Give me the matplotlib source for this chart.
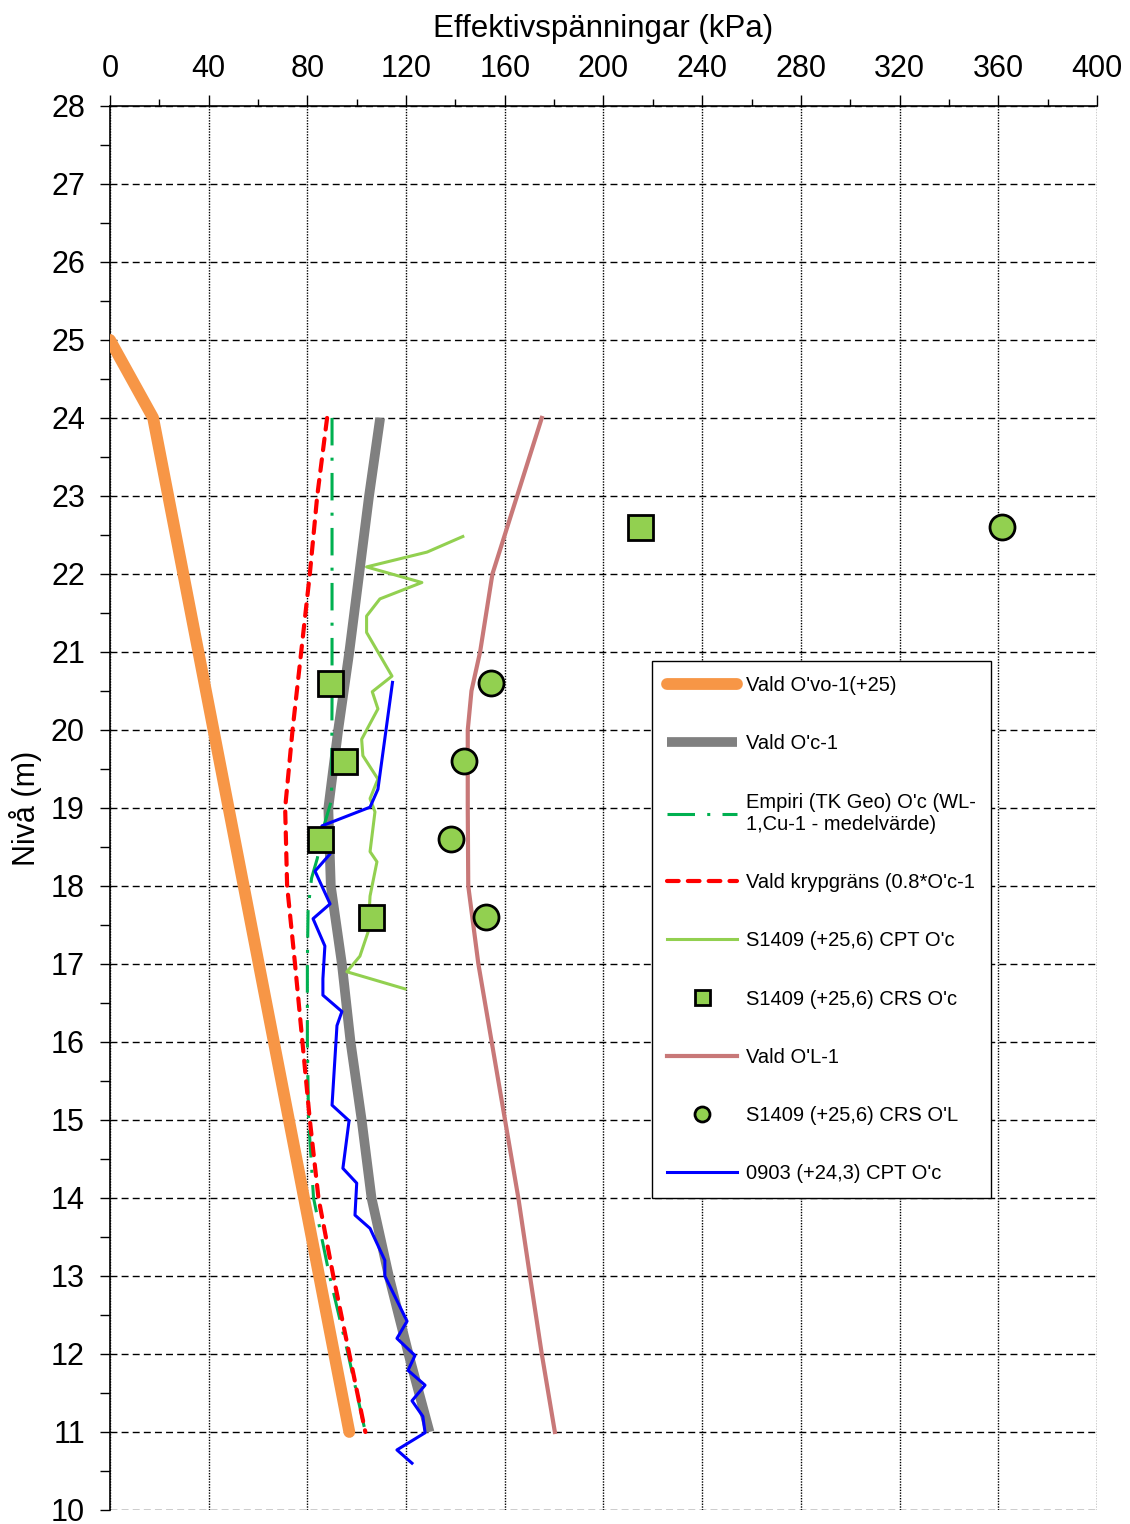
import matplotlib
matplotlib.use('Agg')
import matplotlib.pyplot as plt
from matplotlib.ticker import MultipleLocator

plt.rcParams['font.family'] = ['Liberation Sans', 'DejaVu Sans']

# Vald O'vo-1(+25)
ovo_depth = [25, 24, 11]
ovo_val = [0, 17.5, 97]

# Vald O'c-1
oc_depth = [24, 23, 22, 21, 20, 19, 18, 17, 16, 15, 14, 13, 12, 11]
oc_val = [109.5, 105, 101, 97, 92.5, 88.5, 89.5, 94, 97.5, 102, 106, 113, 121, 129.5]

# Empiri (TK Geo)
emp_depth = [24, 20.4, 19.1, 18.8, 18.35, 18.1, 17.7, 17, 16, 15, 14, 13, 12, 11]
emp_val = [90, 90, 89.8, 87, 84, 81.7, 80.3, 80, 80, 80.5, 82.5, 89, 96.5, 103.5]

# Vald krypgrans
kryp_depth = [24, 23, 22, 21, 20, 19, 18, 17, 16, 15, 14, 13, 12, 11]
kryp_val = [88, 84, 81, 77.5, 74, 71, 71.8, 75, 78, 81, 84.5, 90.5, 97, 103.5]

# S1409 CPT O'c
cpt_depth = [22.48, 22.28, 22.09, 21.89, 21.68, 21.46, 21.25, 20.69, 20.49, 20.27, 19.88,
             19.67, 19.37, 19.12, 18.95, 18.44, 18.31, 17.87, 17.41, 17.10, 16.90, 16.68]
cpt_val = [143, 128.5, 104, 126.4, 109.4, 104, 104, 114.3, 106.3, 108.6, 102,
           102.5, 108.6, 105.4, 107.4, 105.4, 108.2, 105.4, 104.6, 101.3, 96, 119.6]

# S1409 CRS
crs_depth = [22.6, 20.6, 19.6, 18.6, 17.6]
crs_oc = [214.8, 89.2, 94.8, 85.1, 105.8]
crs_ol = [361.5, 154.4, 143.5, 138.2, 152.4]

# Vald O'L-1
ol_depth = [24, 23, 22, 21, 20.5, 20, 19, 18, 17, 16, 15, 14, 13, 12, 11]
ol_val = [175, 165, 155, 150, 146.5, 145, 145, 145.2, 149.3, 154.7, 160.1, 165.5, 170.2, 175, 180.3]

# 0903 CPT O'c
b_depth = [20.61, 19.24, 19.01, 18.77, 18.41, 18.19, 17.77, 17.58, 17.23, 16.81, 16.6,
           16.39, 16.21, 15.19, 14.99, 14.38, 14.19, 13.78, 13.61, 13.2, 13.0, 12.42,
           12.2, 11.98, 11.79, 11.6, 11.4, 11.2, 10.99, 10.77, 10.6]
b_val = [114.5, 108.6, 105.4, 85.9, 89.2, 83.1, 89.2, 82.3, 87.1, 86.3, 86.3,
         94, 92, 90, 96.9, 94.4, 100, 99.3, 105.4, 111.4, 111.4, 120.4,
         116.3, 123.6, 120.8, 127.7, 122.4, 126.8, 127.7, 116.3, 122.4]

fig = plt.figure(figsize=(11.3, 15.24), dpi=100)
ax = fig.add_axes([0.0973, 0.0092, 0.8735, 0.9213])

ax.plot(ovo_val, ovo_depth, color='#F79646', lw=8.5, solid_capstyle='round',
        label="Vald O'vo-1(+25)", zorder=3)
ax.plot(oc_val, oc_depth, color='#808080', lw=7, solid_capstyle='butt',
        label="Vald O'c-1", zorder=3)
ax.plot(emp_val, emp_depth, color='#00B050', lw=2.2, dashes=(9, 4, 1, 4),
        label="Empiri (TK Geo) O'c (WL-\n1,Cu-1 - medelvärde)", zorder=4)
ax.plot(kryp_val, kryp_depth, color='#FF0000', lw=3, dashes=(2.8, 2.2),
        dash_capstyle='round', label="Vald krypgräns (0.8*O'c-1", zorder=4)
ax.plot(cpt_val, cpt_depth, color='#92D050', lw=2.2, label="S1409 (+25,6) CPT O'c", zorder=5)
ax.plot(crs_oc, crs_depth, ls='none', marker='s', ms=18, mfc='#92D050', mec='black',
        mew=2, label="S1409 (+25,6) CRS O'c", zorder=7)
ax.plot(ol_val, ol_depth, color='#C87878', lw=3, label="Vald O'L-1", zorder=4)
ax.plot(crs_ol, crs_depth, ls='none', marker='o', ms=18, mfc='#92D050', mec='black',
        mew=2, label="S1409 (+25,6) CRS O'L", zorder=7)
ax.plot(b_val, b_depth, color='#0000FF', lw=2.2, label="0903 (+24,3) CPT O'c", zorder=6)

ax.set_xlim(0, 400)
ax.set_ylim(10, 28)
ax.xaxis.set_major_locator(MultipleLocator(40))
ax.xaxis.set_minor_locator(MultipleLocator(20))
ax.yaxis.set_major_locator(MultipleLocator(1))
ax.yaxis.set_minor_locator(MultipleLocator(0.5))
ax.xaxis.tick_top()
ax.xaxis.set_label_position('top')
ax.tick_params(axis='x', which='major', direction='out', length=8, width=1, labelsize=22, pad=8)
ax.tick_params(axis='x', which='minor', direction='out', length=5, width=1)
ax.tick_params(axis='y', which='major', direction='out', length=7, width=1, labelsize=22, pad=11)
ax.tick_params(axis='y', which='minor', direction='out', length=7, width=1)
ax.set_xlabel('Effektivspänningar (kPa)', fontsize=22.5, labelpad=12)
ax.set_ylabel('Nivå (m)', fontsize=22, labelpad=6)

ax.spines['right'].set_visible(False)
ax.spines['bottom'].set_visible(False)
ax.spines['left'].set_linewidth(1.2)
ax.spines['top'].set_linewidth(1.2)
ax.grid(axis='x', which='major', color='black', lw=1, ls=(0, (1, 1)))
ax.grid(axis='y', which='major', color='black', lw=1, ls=(0, (5, 3)))
ax.set_axisbelow(True)

leg = ax.legend(loc='upper left', bbox_to_anchor=(0.549, 0.6046), borderaxespad=0,
                fontsize=14.5, handlelength=3.5, handletextpad=0.45, borderpad=0.75,
                labelspacing=1.95, markerscale=0.6, fancybox=False, framealpha=1,
                edgecolor='black')
leg.get_frame().set_linewidth(1)

fig.savefig('out.png', dpi=100)
